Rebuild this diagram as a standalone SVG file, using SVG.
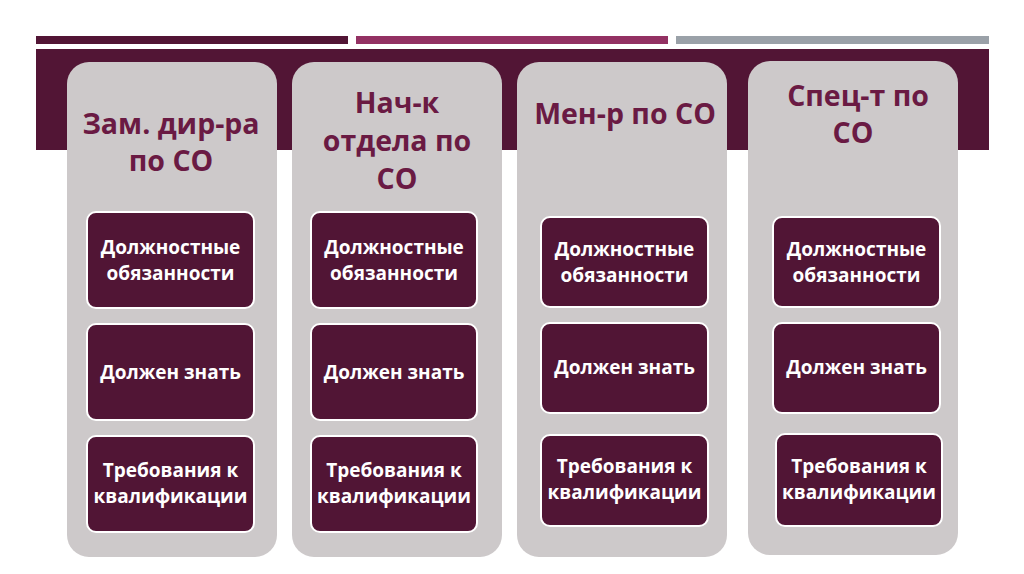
<svg xmlns="http://www.w3.org/2000/svg" width="1024" height="574" viewBox="0 0 1024 574">
<style>
.card{fill:#cdc9ca}
.box{fill:#511535;stroke:#ffffff;stroke-width:2}
.ttl{font-family:"Open Sans","Liberation Sans",sans-serif;font-weight:bold;font-size:28.5px;fill:#6a1a43;text-anchor:middle}
.bt{font-family:"Open Sans","Liberation Sans",sans-serif;font-weight:bold;font-size:19px;fill:#ffffff;text-anchor:middle}
</style>
<rect width="1024" height="574" fill="#ffffff"/>
<rect x="36" y="36" width="312" height="8" fill="#521535"/>
<rect x="356" y="36" width="312" height="8" fill="#933163"/>
<rect x="676" y="36" width="313" height="8" fill="#9aa1a8"/>
<rect x="36" y="49" width="953" height="101" fill="#521535"/>

<g id="col1">
<rect class="card" x="67" y="62" width="210" height="495" rx="22"/>
<text class="ttl" x="171" y="134">Зам. дир-ра</text>
<text class="ttl" x="171" y="171">по СО</text>
<rect class="box" x="87" y="212" width="167" height="96" rx="9"/>
<text class="bt" x="170.5" y="254">Должностные</text>
<text class="bt" x="170.5" y="280">обязанности</text>
<rect class="box" x="87" y="324" width="167" height="96" rx="9"/>
<text class="bt" x="170.5" y="379">Должен знать</text>
<rect class="box" x="87" y="436" width="167" height="96" rx="9"/>
<text class="bt" x="170.5" y="477">Требования к</text>
<text class="bt" x="170.5" y="503">квалификации</text>
</g>

<g id="col2">
<rect class="card" x="292" y="62" width="210" height="495" rx="22"/>
<text class="ttl" x="397" y="113">Нач-к</text>
<text class="ttl" x="397" y="151">отдела по</text>
<text class="ttl" x="397" y="189">СО</text>
<rect class="box" x="311" y="212" width="166" height="96" rx="9"/>
<text class="bt" x="394" y="254">Должностные</text>
<text class="bt" x="394" y="280">обязанности</text>
<rect class="box" x="311" y="324" width="166" height="96" rx="9"/>
<text class="bt" x="394" y="379">Должен знать</text>
<rect class="box" x="311" y="436" width="166" height="96" rx="9"/>
<text class="bt" x="394" y="477">Требования к</text>
<text class="bt" x="394" y="503">квалификации</text>
</g>

<g id="col3">
<rect class="card" x="517" y="62" width="210" height="495" rx="22"/>
<text class="ttl" x="625" y="124">Мен-р по СО</text>
<rect class="box" x="541" y="217" width="167" height="90" rx="9"/>
<text class="bt" x="624.5" y="256">Должностные</text>
<text class="bt" x="624.5" y="282">обязанности</text>
<rect class="box" x="541" y="323" width="167" height="90" rx="9"/>
<text class="bt" x="624.5" y="374">Должен знать</text>
<rect class="box" x="541" y="435" width="167" height="91" rx="9"/>
<text class="bt" x="624.5" y="473">Требования к</text>
<text class="bt" x="624.5" y="499">квалификации</text>
</g>

<g id="col4">
<rect class="card" x="748" y="61" width="210" height="494" rx="22"/>
<text class="ttl" x="858" y="106">Спец-т по</text>
<text class="ttl" x="853" y="143">СО</text>
<rect class="box" x="773" y="217" width="167" height="90" rx="9"/>
<text class="bt" x="856.5" y="256">Должностные</text>
<text class="bt" x="856.5" y="282">обязанности</text>
<rect class="box" x="773" y="323" width="167" height="90" rx="9"/>
<text class="bt" x="856.5" y="374">Должен знать</text>
<rect class="box" x="776" y="434" width="166" height="92" rx="9"/>
<text class="bt" x="859" y="473">Требования к</text>
<text class="bt" x="859" y="499">квалификации</text>
</g>
<g id="connectors"/>
</svg>
